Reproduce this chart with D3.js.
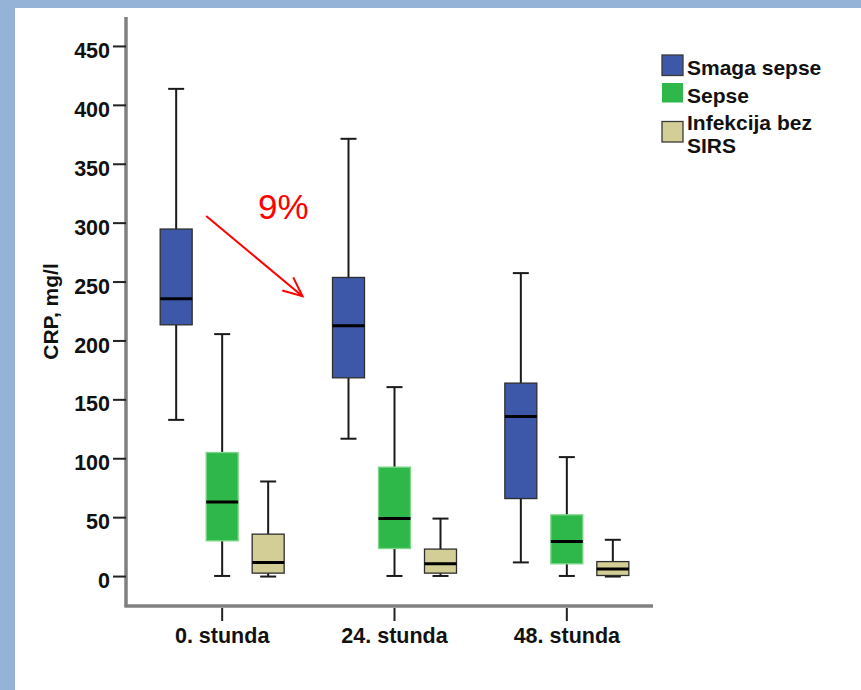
<!DOCTYPE html>
<html>
<head>
<meta charset="utf-8">
<script src="https://cdn.jsdelivr.net/npm/d3@7/dist/d3.min.js"></script>
<style>
  html, body { margin: 0; padding: 0; background: #ffffff; }
  svg { display: block; }
  text { font-family: "Liberation Sans", Arial, sans-serif; }
</style>
</head>
<body>
<svg id="chart" width="861" height="690"></svg>
<script>
// CRP (mg/l) by time point and patient group: box plot summaries
const categories = ["0. stunda", "24. stunda", "48. stunda"];
const seriesNames = ["Smaga sepse", "Sepse", "Infekcija bez SIRS"];
const seriesColors = ["#3d58a8", "#2fb84a", "#d3ce96"];
const seriesStrokes = ["#2e2e2e", "#7fd68a", "#2e2e2e"];

// one row per series, one value per time point
const minVals    = [[133, 117, 12],      [0.5, 0.5, 0.5],   [0, 0.5, 0]];
const q1Vals     = [[213.7, 168.7, 66.2], [30.3, 23.8, 10.8], [2.9, 2.9, 0.9]];
const medianVals = [[235.8, 212.9, 135.8], [63.2, 49.2, 29.7], [11.9, 10.8, 6.5]];
const q3Vals     = [[295, 253.9, 164.2], [105.3, 92.9, 52.4], [36, 23.3, 12.7]];
const maxVals    = [[414, 371.6, 257.6], [205.8, 160.8, 101.4], [80.7, 49.2, 31.2]];

const yTicks = [0, 50, 100, 150, 200, 250, 300, 350, 400, 450];
const yLabel = "CRP, mg/l";
const changeLabel = "9%";

const svg = d3.select("#chart");
const W = 861, H = 690;

// slide frame
svg.append("rect").attr("width", W).attr("height", H).attr("fill", "#ffffff");
svg.append("rect").attr("x", 0).attr("y", 0).attr("width", W).attr("height", 8).attr("fill", "#95b3d7");
svg.append("rect").attr("x", 0).attr("y", 0).attr("width", 15).attr("height", H).attr("fill", "#95b3d7");

const axisX = 126, axisY = 606, axisRight = 653, axisTop = 17;

const y = d3.scaleLinear().domain([-25, 475]).range([axisY, axisTop]);
const x = d3.scaleBand().domain(categories).range([136, axisRight]).padding(0);
const inner = d3.scalePoint().domain(seriesNames).range([-46, 46]);
const boxW = 32, capW = 16;
const cx = (ci, si) => x(categories[ci]) + x.bandwidth() / 2 + inner(seriesNames[si]);

const FONT = 21.5;

// y axis
const yAxis = svg.append("g");
yAxis.append("line")
  .attr("x1", axisX).attr("x2", axisX).attr("y1", axisTop).attr("y2", axisY + 1)
  .attr("stroke", "#808080").attr("stroke-width", 3.5);
yAxis.selectAll("line.tick").data(yTicks).join("line").attr("class", "tick")
  .attr("x1", axisX - 13).attr("x2", axisX)
  .attr("y1", d => y(d)).attr("y2", d => y(d))
  .attr("stroke", "#222").attr("stroke-width", 2);
yAxis.selectAll("text").data(yTicks).join("text")
  .attr("x", axisX - 16).attr("y", d => y(d) + 11.6)
  .attr("text-anchor", "end")
  .attr("font-size", FONT).attr("font-weight", "bold").attr("fill", "#111")
  .text(d => d);

// x axis
const xAxis = svg.append("g");
xAxis.append("line")
  .attr("x1", axisX - 1.5).attr("x2", axisRight).attr("y1", axisY).attr("y2", axisY)
  .attr("stroke", "#808080").attr("stroke-width", 3.5);
xAxis.selectAll("line.tick").data(categories).join("line").attr("class", "tick")
  .attr("x1", d => x(d) + x.bandwidth() / 2).attr("x2", d => x(d) + x.bandwidth() / 2)
  .attr("y1", axisY + 2).attr("y2", axisY + 15)
  .attr("stroke", "#222").attr("stroke-width", 2);
xAxis.selectAll("text").data(categories).join("text")
  .attr("x", d => x(d) + x.bandwidth() / 2).attr("y", 643)
  .attr("text-anchor", "middle")
  .attr("font-size", FONT).attr("font-weight", "bold").attr("fill", "#111")
  .text(d => d);

// axis title
svg.append("text")
  .attr("transform", `translate(58, ${y(225)}) rotate(-90)`)
  .attr("text-anchor", "middle")
  .attr("font-size", 21).attr("font-weight", "bold").attr("fill", "#111")
  .text(yLabel);

// boxes
const boxes = [];
seriesNames.forEach((s, si) => categories.forEach((c, ci) => {
  boxes.push({
    si, ci,
    min: minVals[si][ci], q1: q1Vals[si][ci], med: medianVals[si][ci],
    q3: q3Vals[si][ci], max: maxVals[si][ci]
  });
}));

const g = svg.append("g");
const bg = g.selectAll("g.box").data(boxes).join("g").attr("class", "box");
// whiskers
bg.append("line")
  .attr("x1", d => cx(d.ci, d.si)).attr("x2", d => cx(d.ci, d.si))
  .attr("y1", d => y(d.max)).attr("y2", d => y(d.q3))
  .attr("stroke", "#1a1a1a").attr("stroke-width", 2);
bg.append("line")
  .attr("x1", d => cx(d.ci, d.si)).attr("x2", d => cx(d.ci, d.si))
  .attr("y1", d => y(d.q1)).attr("y2", d => y(d.min))
  .attr("stroke", "#1a1a1a").attr("stroke-width", 2);
bg.append("line")
  .attr("x1", d => cx(d.ci, d.si) - capW / 2).attr("x2", d => cx(d.ci, d.si) + capW / 2)
  .attr("y1", d => y(d.max)).attr("y2", d => y(d.max))
  .attr("stroke", "#1a1a1a").attr("stroke-width", 2);
bg.append("line")
  .attr("x1", d => cx(d.ci, d.si) - capW / 2).attr("x2", d => cx(d.ci, d.si) + capW / 2)
  .attr("y1", d => y(d.min)).attr("y2", d => y(d.min))
  .attr("stroke", "#1a1a1a").attr("stroke-width", 2);
// interquartile box
bg.append("rect")
  .attr("x", d => cx(d.ci, d.si) - boxW / 2).attr("width", boxW)
  .attr("y", d => y(d.q3)).attr("height", d => y(d.q1) - y(d.q3))
  .attr("fill", d => seriesColors[d.si])
  .attr("stroke", d => seriesStrokes[d.si]).attr("stroke-width", 1.3);
// median
bg.append("line")
  .attr("x1", d => cx(d.ci, d.si) - boxW / 2).attr("x2", d => cx(d.ci, d.si) + boxW / 2)
  .attr("y1", d => y(d.med)).attr("y2", d => y(d.med))
  .attr("stroke", "#000").attr("stroke-width", 3);

// change annotation between the first two time points
const ax1 = cx(0, 0) + 30, ay1 = y(306);
const ax2 = cx(1, 0) - 46, ay2 = y(238);
const ang = Math.atan2(ay2 - ay1, ax2 - ax1);
const head = 21, spread = 0.42;
const red = "#ff0000";
svg.append("line").attr("x1", ax1).attr("y1", ay1).attr("x2", ax2).attr("y2", ay2)
  .attr("stroke", red).attr("stroke-width", 2);
svg.append("polyline")
  .attr("points", [
    [ax2 - head * Math.cos(ang - spread), ay2 - head * Math.sin(ang - spread)],
    [ax2, ay2],
    [ax2 - head * Math.cos(ang + spread), ay2 - head * Math.sin(ang + spread)]
  ].map(p => p.join(",")).join(" "))
  .attr("fill", "none").attr("stroke", red).attr("stroke-width", 2);
svg.append("text")
  .attr("x", 258).attr("y", 219)
  .attr("font-family", "Lato, 'Open Sans', sans-serif")
  .attr("font-size", 35).attr("fill", red)
  .text(changeLabel);

// legend: swatch plus label; the last label wraps onto two lines
const legend = svg.append("g");
const lgX = 662, sw = 21;
const legendLines = [["Smaga sepse"], ["Sepse"], ["Infekcija bez", "SIRS"]];
const legendTops = [55, 83, 121.5];
const legendBases = [75, 103.3, 129.5];
legendLines.forEach((lines, i) => {
  legend.append("rect")
    .attr("x", lgX).attr("y", legendTops[i]).attr("width", sw).attr("height", i === 1 ? 19.5 : 20.5)
    .attr("fill", seriesColors[i])
    .attr("stroke", i === 1 ? "none" : "#3a3a3a").attr("stroke-width", 1.3);
  lines.forEach((line, k) => {
    legend.append("text")
      .attr("x", lgX + sw + 4).attr("y", legendBases[i] + k * 23.5)
      .attr("font-size", 21).attr("font-weight", "bold").attr("fill", "#111")
      .text(line);
  });
});
</script>
</body>
</html>
